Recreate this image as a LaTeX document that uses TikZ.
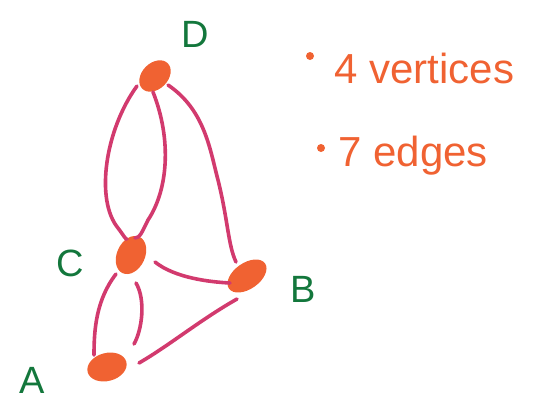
\documentclass[tikz,border=0pt]{standalone}
\usepackage{fontspec}
\setmainfont{Liberation Sans}
\usetikzlibrary{calc,shapes.geometric}
\begin{document}
\begin{tikzpicture}[x=1pt,y=-1pt,
  blob/.style={fill=blobc, ellipse, inner sep=0pt},
  edge/.style={draw=edgec, line width=3.6pt, line cap=round},
  vlabel/.style={text=labc, font=\fontsize{38}{38}\selectfont},
  note/.style={text=notec, font=\fontsize{42}{42}\selectfont, anchor=west}]
\definecolor{blobc}{HTML}{F06232}
\definecolor{edgec}{HTML}{D23A6E}
\definecolor{labc}{HTML}{13773C}
\definecolor{notec}{HTML}{F06232}
\useasboundingbox (0,0) rectangle (555,408);
% vertices
\node[blob, minimum width=36pt, minimum height=26pt, rotate=45] (D) at (155,76) {};
\node[blob, minimum width=40pt, minimum height=28pt, rotate=65] (C) at (131,255) {};
\node[blob, minimum width=44pt, minimum height=26pt, rotate=35] (B) at (247,276) {};
\node[blob, minimum width=40pt, minimum height=28pt, rotate=15] (A) at (107,367) {};
% labels
\node[vlabel] (lD) at (195,34) {D};
\node[vlabel] (lC) at (70,263) {C};
\node[vlabel] (lB) at (303,289) {B};
\node[vlabel] (lA) at (32,380) {A};
% edges
\draw[edge] ($(D)+(-18,10)$) .. controls (105,130) and (95,200) .. (118,228) .. controls (124,236) and (126,240) .. ($(C)+(-4,-16)$);
\draw[edge] ($(D)+(-2,16)$) .. controls (172,140) and (168,190) .. (148,220) .. controls (142,232) and (140,238) .. ($(C)+(4,-17)$);
\draw[edge] ($(D)+(13,9)$) .. controls (205,110) and (210,150) .. (218,180) .. controls (228,220) and (228,245) .. ($(B)+(-11,-14)$);
\draw[edge] ($(C)+(24,7)$) .. controls (175,278) and (210,282) .. ($(B)+(-17,7)$);
\draw[edge] ($(C)+(-15,19)$) .. controls (96,300) and (94,330) .. ($(A)+(-13,-12)$);
\draw[edge] ($(C)+(5,28)$) .. controls (146,300) and (142,330) .. ($(A)+(27,-23)$);
\draw[edge] ($(B)+(-10,23)$) .. controls (200,320) and (170,345) .. ($(A)+(32,-4)$);
% notes
\fill[notec] (310,56) circle (4);
\fill[notec] (321,148) circle (4);
\node[note] (n1) at (331,68) {4 vertices};
\node[note] (n2) at (335,156) {7 edges};
\end{tikzpicture}
\end{document}
